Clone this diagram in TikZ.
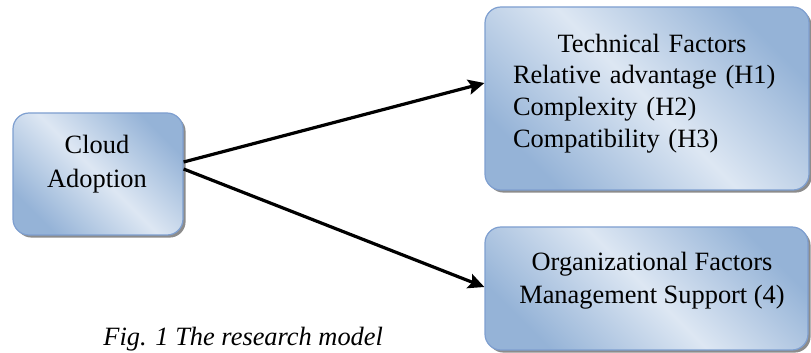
\documentclass[tikz,border=0pt]{standalone}
\usepackage{fontspec}
\setmainfont{Liberation Serif}
\usetikzlibrary{arrows.meta,shadows}
\definecolor{boxlight}{RGB}{221,231,243}
\definecolor{boxdark}{RGB}{149,179,215}
\definecolor{boxline}{RGB}{126,159,208}
\begin{document}
\begin{tikzpicture}[x=0.5pt,y=-0.5pt,
  factorbox/.style={draw=boxline,line width=0.6pt,rounded corners=8pt,
    shading=axis,top color=boxdark,bottom color=boxdark,middle color=boxlight,shading angle=-45,
    drop shadow={shadow xshift=1.3pt,shadow yshift=-1.3pt,fill=black!45,opacity=1},inner sep=0pt},
  boxtext/.style={inner sep=0pt,font=\fontsize{13.2}{17}\selectfont},
  link/.style={line width=1.6pt,-{Stealth[length=8pt,width=7.5pt,inset=1.5pt]}}]
  \useasboundingbox (0,0) rectangle (811,353);
  \node[factorbox,minimum width=85pt,minimum height=61pt] (cloud) at (98,174) {};
  \node[factorbox,minimum width=162pt,minimum height=91.5pt] (tech) at (647,98.5) {};
  \node[factorbox,minimum width=161.5pt,minimum height=61.5pt] (org) at (646.5,288.5) {};
  \node[boxtext,align=center] (cloudtxt) at (97,164) {Cloud\\Adoption};
  \node[boxtext,text width=139pt,align=left,font=\fontsize{13.2}{15.8}\selectfont] (techtxt) at (652,93.3)
    {\makebox[\linewidth]{Technical Factors}\\Relative advantage (H1)\\Complexity (H2)\\Compatibility (H3)};
  \node[boxtext,align=center,font=\fontsize{13.2}{16.5}\selectfont] (orgtxt) at (652,280.4)
    {Organizational Factors\\Management Support (4)};
  \draw[link] ([yshift=6pt]cloud.east) -- ([yshift=7.75pt]tech.west);
  \draw[link] ([yshift=2.5pt]cloud.east) -- ([yshift=0.75pt]org.west);
  \node[inner sep=0pt,anchor=base west,font=\fontsize{13.2}{16}\selectfont\itshape] (caption) at (103,346)
    {Fig. 1 The research model};
\end{tikzpicture}
\end{document}
